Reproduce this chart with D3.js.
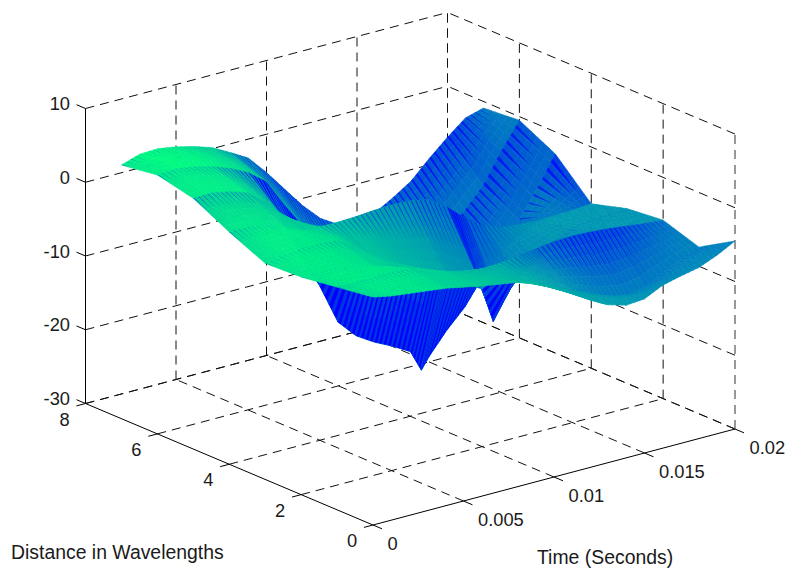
<!DOCTYPE html>
<html>
<head>
<meta charset="utf-8">
<script src="https://cdn.jsdelivr.net/npm/d3@7"></script>
<style>
  html, body { margin: 0; background: #fff; }
  text { font-family: "Liberation Sans", Arial, sans-serif; fill: #1a1a1a; }
</style>
</head>
<body>
<svg id="chart" width="788" height="569"></svg>
<script>
const timeTicks = [0, 0.005, 0.01, 0.015, 0.02]
const timeLabels = ["0", "0.005", "0.01", "0.015", "0.02"]
const distTicks = [0, 2, 4, 6, 8]
const zTicks = [-30, -20, -10, 0, 10]

// sample times, one extra column at 0.0126 for the sharp dip at distance 3
const times = [0, 0.001, 0.002, 0.003, 0.004, 0.005, 0.006, 0.007, 0.008, 0.009, 0.01, 0.011,
  0.012, 0.0126, 0.013, 0.014, 0.015, 0.016, 0.017, 0.018, 0.019, 0.02]
const distances = [0, 1, 2, 3, 4, 5, 6, 7]

const row0 = [0.9, 0.4, 0.1, -0.2, -0.5, -1, -1.5, -1.9, -2.3, -3.2, -4.4, -5.8, -7.3, -8.1, -8.6, -9.3, -9.1, -7.9, -7.3, -6.8, -5.8, -4.5]
const row1 = [0.2, 0.2, 0.2, 0.2, 0.1, -0.9, -1.7, -2.8, -3.6, -4.4, -5.2, -6.3, -7.5, -8.2, -8.7, -9.8, -10.8, -11.4, -10.8, -9.6, -8.4, -7.4]
const row2 = [-0.5, -0.5, -0.6, -1, -1.6, -2.4, -3.2, -4.1, -5, -5.7, -5.9, -5.8, -5.5, -5.3, -5.1, -4.8, -4.7, -4.8, -5, -5.3, -5.6, -5.8]
const row3 = [-0.7, -0.2, 0, 0, -0.2, -1.7, -3.9, -5.2, -6.5, -7.6, -8.7, -10.5, -12, -16.8, -14.5, -11.5, -9.5, -8, -7, -6.5, -6.3, -6.3]
const row4 = [1.5, 1.5, 1.1, 0.3, -0.9, -1.1, -1.1, -1, -0.8, -0.7, -0.8, -1.3, -2.9, -4.2, -5, -6.8, -7.6, -7.9, -8, -8, -7.9, -7.7]
const row5 = [4, 4.1, 3.6, 2.8, 0.8, -2, -8, -12.5, -18, -20.5, -22, -23.2, -24.6, -27.5, -26, -23, -20.5, -17, -14, -10.7, -7, -3]
const row6 = [5.1, 5.3, 4.9, 4.3, 3.4, 2.2, 0.3, -3.5, -7, -11, -14, -16, -17, -17.2, -17, -16, -14.5, -13, -10.7, -8, -4, -0.5]
const row7 = [4.4, 5.2, 5.3, 4.9, 4.3, 3.5, 2.2, 0.8, -1.8, -4.7, -7.6, -10, -11.5, -11.8, -11.8, -11.2, -9.8, -8.2, -5.8, -3.6, -1.6, -0.9]
const rows = [row0, row1, row2, row3, row4, row5, row6, row7]

// colormap position along the time axis and across the rows, before slope darkening
const brightness = [0.96, 1, 1, 1, 0.97, 0.94, 0.9, 0.87, 0.84, 0.82, 0.8, 0.78, 0.75, 0.74, 0.72, 0.69, 0.67, 0.66, 0.65, 0.64, 0.63, 0.62]
const rowBrightness = [0.93, 0.94, 0.95, 0.96, 0.97, 0.98, 1, 1]
// how much a steep face darkens, strip by strip
const stripDarkening = [1, 1, 0.6, 0.45, 1, 1, 1]

const svg = d3.select("#chart")

// the view is an oblique projection, so each data axis has its own screen offset
const tx = d3.scaleLinear().domain([0, 0.02]).range([0, 362])
const ty = d3.scaleLinear().domain([0, 0.02]).range([0, -96])
const dx = d3.scaleLinear().domain([0, 8]).range([0, -287.5])
const dy = d3.scaleLinear().domain([0, 8]).range([0, -121.5])
const zy = d3.scaleLinear().domain([-30, 10]).range([0, -295])
const winter = v => d3.rgb(0, 255 * v, 255 * (1 - v / 2)).formatHex()

const project = (t, d, z) => [373 + tx(t) + dx(d), 525 + ty(t) + dy(d) + zy(z)]
const line3 = (a, b) => d3.line()([project(...a), project(...b)])

// grid on the back walls and floor
const grid = []
timeTicks.forEach(t => {
  grid.push([[t, 8, -30], [t, 8, 10]])
  if (t > 0) grid.push([[t, 0, -30], [t, 8, -30]])
})
distTicks.forEach(d => {
  if (d > 0) {
    grid.push([[0.02, d, -30], [0.02, d, 10]])
    grid.push([[0, d, -30], [0.02, d, -30]])
  }
})
zTicks.forEach(z => {
  grid.push([[0, 8, z], [0.02, 8, z]])
  grid.push([[0.02, 0, z], [0.02, 8, z]])
})

svg.append("g").selectAll("path")
  .data(grid)
  .join("path")
  .attr("d", p => line3(p[0], p[1]))
  .attr("fill", "none")
  .attr("stroke", "#111")
  .attr("stroke-dasharray", "9 6")

// this corner edge comes out grey in the reference
svg.append("path")
  .attr("d", line3([0.02, 0, -30], [0.02, 0, 10]))
  .attr("fill", "none")
  .attr("stroke", "#777")
  .attr("stroke-width", 1.5)
  .attr("stroke-dasharray", "9 6")

// surface, painted far to near
const polys = []
const lerp = (a, b, f) => a + (b - a) * f
const surfacePoint = (j, f, i, u) => {
  const t = lerp(times[j], times[j + 1], f)
  const d = lerp(distances[i], distances[i + 1], u)
  const near = lerp(rows[i][j], rows[i][j + 1], f)
  const far = lerp(rows[i + 1][j], rows[i + 1][j + 1], f)
  return project(t, d, lerp(near, far, u))
}
const slices = 4
const steps = 6

for (let i = rows.length - 2; i >= 0; i--) {
  for (let j = times.length - 2; j >= 0; j--) {
    const stepT = (times[j + 1] - times[j]) / 0.001
    const slopeT = Math.max(
      Math.abs(rows[i][j + 1] - rows[i][j]),
      Math.abs(rows[i + 1][j + 1] - rows[i + 1][j])
    ) / stepT
    for (let s = slices - 1; s >= 0; s--) {
      const f0 = s / slices
      const f1 = (s + 1) / slices
      const fm = (f0 + f1) / 2
      const rise = lerp(rows[i + 1][j], rows[i + 1][j + 1], fm) - lerp(rows[i][j], rows[i][j + 1], fm)
      // faces rising away from the viewer and big drops behind a row both come out blue
      const slopeD = (Math.max(0, rise) + Math.max(0, -rise - 2)) * stripDarkening[i]
      const base = lerp(brightness[j], brightness[j + 1], fm) - 0.04 * slopeT
      for (let k = steps - 1; k >= 0; k--) {
        const u0 = k / steps
        const u1 = (k + 1) / steps
        const um = (u0 + u1) / 2
        const shade = lerp(rowBrightness[i], rowBrightness[i + 1], um)
        const v = Math.max(0.2, base * shade - Math.min(0.6, 0.05 * slopeD) * (0.3 + 0.7 * um))
        polys.push({
          pts: [surfacePoint(j, f0, i, u0), surfacePoint(j, f1, i, u0), surfacePoint(j, f1, i, u1), surfacePoint(j, f0, i, u1)],
          color: winter(v),
          opacity: 1,
          edge: 0.6
        })
      }
      // thin dark wedge from the far row, the triangle artefact of the original render
      const reach = Math.min(0.9, 0.3 + 0.05 * slopeD + 0.05 * slopeT)
      const width = Math.min(1.2, 0.35 + 0.07 * slopeD + 0.06 * slopeT) * (fm - f0)
      polys.push({
        pts: [surfacePoint(j, f0, i, 1), surfacePoint(j, f0 + width, i, 1), surfacePoint(j, f0 + width / 2, i, 1 - reach)],
        color: winter(0),
        opacity: Math.min(1, 0.35 + 0.04 * slopeD + 0.05 * slopeT),
        edge: 0
      })
    }
  }
}

svg.append("g").selectAll("path")
  .data(polys)
  .join("path")
  .attr("d", p => d3.line()(p.pts) + "Z")
  .attr("fill", p => p.color)
  .attr("fill-opacity", p => p.opacity)
  .attr("stroke", p => p.edge ? p.color : "none")
  .attr("stroke-width", p => p.edge)

// solid axes and their ticks
const axes = [
  [[0, 8, -30], [0, 8, 10]],
  [[0, 0, -30], [0, 8, -30]],
  [[0, 0, -30], [0.02, 0, -30]]
]
zTicks.forEach(z => axes.push([[0, 8, z], [0, 8.25, z]]))
distTicks.forEach(d => axes.push([[0, d, -30], [-0.0005, d, -30]]))
timeTicks.forEach(t => axes.push([[t, 0, -30], [t, -0.25, -30]]))

svg.append("g").selectAll("path")
  .data(axes)
  .join("path")
  .attr("d", p => line3(p[0], p[1]))
  .attr("fill", "none")
  .attr("stroke", "#000")

// tick labels
svg.append("g").selectAll("text")
  .data(zTicks)
  .join("text")
  .attr("x", 70)
  .attr("y", z => project(0, 8, z)[1] - 5)
  .attr("dy", "0.36em")
  .attr("text-anchor", "end")
  .attr("font-size", 18.3)
  .text(z => z)

svg.append("g").selectAll("text")
  .data(distTicks)
  .join("text")
  .attr("x", d => project(0, d, -30)[0] - 21)
  .attr("y", d => project(0, d, -30)[1] + 15.5)
  .attr("dy", "0.36em")
  .attr("text-anchor", "middle")
  .attr("font-size", 18.3)
  .text(d => d)

svg.append("g").selectAll("text")
  .data(timeTicks)
  .join("text")
  .attr("x", t => project(t, 0, -30)[0] + 14.5)
  .attr("y", t => project(t, 0, -30)[1] + 18)
  .attr("dy", "0.36em")
  .attr("font-size", 18.3)
  .text((t, i) => timeLabels[i])

svg.append("text")
  .attr("x", 11)
  .attr("y", 552)
  .attr("dy", "0.36em")
  .attr("font-size", 19.4)
  .text("Distance in Wavelengths")

svg.append("text")
  .attr("x", 537)
  .attr("y", 557)
  .attr("dy", "0.36em")
  .attr("font-size", 19.4)
  .text("Time (Seconds)")
</script>
</body>
</html>
